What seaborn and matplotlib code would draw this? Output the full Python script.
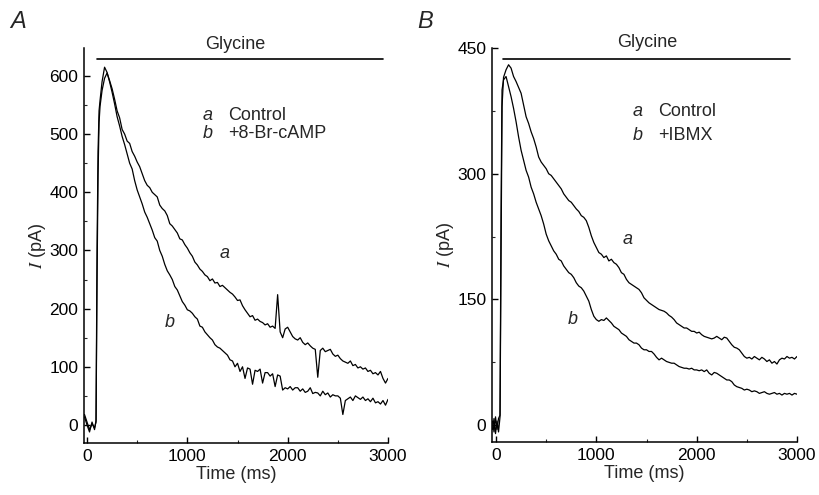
import matplotlib
matplotlib.use("Agg")
import matplotlib.pyplot as plt
from matplotlib.ticker import MultipleLocator
import seaborn as sns
import pandas as pd

# ---------------- data ----------------
STEP_TIMES = list(range(200, 3001, 25))

# Panel A : control (a) vs +8-Br-cAMP (b)
A_EARLY_T = [-25, 0, 25, 50, 75, 90, 100, 110, 120, 130, 150, 175]
A_a_early = [18, 5, -8, 2, -5, 5, 250, 430, 520, 548, 575, 596]
A_b_early = [14, 0, -12, 5, -8, 8, 300, 470, 540, 558, 590, 615]
A_a = [605, 592, 578, 560, 540, 528, 508, 500, 488, 484, 470, 462, 452, 444, 432, 420,
       412, 408, 400, 396, 392, 378, 372, 368, 360, 346, 342, 336, 330, 320, 318, 310,
       304, 296, 290, 280, 275, 268, 264, 258, 255, 248, 251, 244, 245, 238, 240, 236,
       232, 228, 225, 220, 214, 215, 205, 198, 192, 186, 188, 180, 182, 178, 176, 172,
       174, 168, 170, 166, 224, 160, 150, 165, 168, 160, 152, 148, 146, 150, 142, 138,
       141, 136, 132, 130, 82, 128, 132, 126, 128, 130, 122, 118, 120, 114, 110, 108,
       106, 110, 102, 104, 98, 100, 96, 98, 92, 94, 88, 90, 86, 92, 80, 72, 80]
A_b = [606, 590, 572, 552, 530, 514, 496, 482, 466, 450, 440, 420, 404, 392, 380, 366,
       357, 346, 335, 322, 316, 300, 290, 276, 265, 258, 250, 238, 232, 222, 212, 206,
       198, 196, 192, 186, 182, 170, 168, 160, 155, 150, 146, 138, 134, 132, 128, 124,
       120, 112, 110, 100, 106, 92, 100, 80, 98, 96, 70, 94, 92, 96, 72, 90,
       90, 84, 88, 66, 86, 84, 60, 64, 62, 66, 60, 64, 64, 58, 62, 56,
       58, 64, 54, 56, 55, 50, 58, 52, 55, 48, 52, 50, 50, 46, 18, 42,
       45, 48, 42, 50, 47, 44, 48, 42, 45, 40, 46, 38, 40, 36, 42, 34, 44]

# Panel B : control (a) vs +IBMX (b)
B_EARLY_T = [-35, -20, -5, 10, 25, 40, 50, 60, 75, 100, 125, 150, 175]
B_a_early = [-5, 8, -10, 5, -8, 10, 200, 380, 415, 424, 430, 426, 416]
B_b_early = [5, -8, 10, -5, 8, 12, 250, 400, 412, 416, 404, 392, 378]
B_a = [410, 403, 396, 382, 368, 360, 350, 342, 332, 320, 314, 310, 306, 300, 298, 294,
       290, 286, 282, 276, 272, 268, 266, 262, 258, 255, 250, 248, 244, 236, 226, 218,
       212, 206, 204, 200, 202, 196, 198, 194, 192, 188, 182, 180, 174, 170, 168, 166,
       164, 162, 158, 152, 149, 146, 144, 142, 140, 138, 137, 136, 134, 131, 129, 126,
       122, 120, 118, 116, 116, 114, 112, 112, 110, 111, 108, 106, 105, 104, 103, 104,
       106, 104, 102, 105, 104, 100, 96, 93, 92, 90, 86, 82, 80, 81, 79, 82,
       80, 78, 81, 79, 76, 78, 74, 76, 73, 78, 80, 79, 82, 80, 81, 79, 82]
B_b = [362, 344, 328, 316, 304, 296, 284, 276, 266, 258, 250, 240, 228, 220, 214, 208,
       204, 198, 196, 190, 186, 182, 180, 176, 170, 166, 164, 160, 154, 148, 138, 130,
       126, 124, 126, 125, 128, 125, 122, 118, 116, 114, 110, 108, 106, 102, 100, 98,
       98, 96, 92, 90, 90, 88, 88, 85, 81, 78, 80, 78, 76, 75, 74, 74,
       72, 70, 69, 68, 68, 67, 68, 66, 66, 65, 66, 64, 66, 62, 60, 63,
       62, 60, 58, 56, 54, 54, 52, 48, 46, 45, 44, 42, 43, 42, 40, 41,
       40, 38, 39, 40, 38, 37, 38, 39, 37, 38, 36, 38, 37, 38, 36, 38, 37]

GLY_A_SPAN = [100, 2950]
GLY_A_LEVEL = 629
GLY_B_SPAN = [70, 2930]
GLY_B_LEVEL = 437

A_YTICKS = [0, 100, 200, 300, 400, 500, 600]
B_YTICKS = [0, 150, 300, 450]
XTICKS = [0, 1000, 2000, 3000]

# ---------------- style ----------------
sns.set_style("ticks")
plt.rcParams["font.family"] = ["Liberation Sans", "DejaVu Sans"]
plt.rcParams["mathtext.fontset"] = "stix"

fig = plt.figure(figsize=(8.2, 4.95), dpi=100)
axA = fig.add_axes([84 / 820, 52 / 495, 304 / 820, 395 / 495])
axB = fig.add_axes([492 / 820, 53 / 495, 305 / 820, 394 / 495])


def trace_df(early_t, early_v, vals):
    t = list(early_t) + STEP_TIMES
    v = list(early_v) + list(vals)
    n = min(len(t), len(v))
    return pd.DataFrame({"t": t[:n], "v": v[:n]})


def style_axis(ax, xlim, ylim, yticks, ymin):
    ax.set_xlim(*xlim)
    ax.set_ylim(*ylim)
    ax.set_xticks(XTICKS)
    ax.set_yticks(yticks)
    ax.xaxis.set_minor_locator(MultipleLocator(500))
    ax.yaxis.set_minor_locator(MultipleLocator(ymin))
    for s in ["top", "right"]:
        ax.spines[s].set_visible(False)
    for s in ["left", "bottom"]:
        ax.spines[s].set_linewidth(1.1)
        ax.spines[s].set_color("black")
    ax.tick_params(which="major", direction="in", length=4, width=1, labelsize=12.5,
                   colors="black", pad=4)
    ax.tick_params(which="minor", direction="in", length=2.5, width=0.8)
    ax.set_xlabel("Time (ms)", fontsize=13, labelpad=2)
    ax.set_ylabel(r"$I$ (pA)", fontsize=13, labelpad=1)


line_kw = dict(x="t", y="v", estimator=None, sort=False, color="black", linewidth=0.9)

sns.lineplot(data=trace_df(A_EARLY_T, A_a_early, A_a), ax=axA, **line_kw)
sns.lineplot(data=trace_df(A_EARLY_T, A_b_early, A_b), ax=axA, **line_kw)
sns.lineplot(data=trace_df(B_EARLY_T, B_a_early, B_a), ax=axB, **line_kw)
sns.lineplot(data=trace_df(B_EARLY_T, B_b_early, B_b), ax=axB, **line_kw)

axA.plot(GLY_A_SPAN, [GLY_A_LEVEL] * 2, color="black", lw=1.2)
axB.plot(GLY_B_SPAN, [GLY_B_LEVEL] * 2, color="black", lw=1.2)

style_axis(axA, (-30, 3000), (-31, 648), A_YTICKS, 50)
style_axis(axB, (-40, 3000), (-20, 450), B_YTICKS, 75)

# Glycine labels
axA.text(0.497, 1.008, "Glycine", transform=axA.transAxes, ha="center", va="center", fontsize=13)
axB.text(0.508, 1.015, "Glycine", transform=axB.transAxes, ha="center", va="center", fontsize=13)

# legends (text)
for ax, xa, xt, ya, yb, lab in [(axA, 0.391, 0.474, 0.830, 0.784, "+8-Br-cAMP"),
                               (axB, 0.462, 0.544, 0.838, 0.777, "+IBMX")]:
    ax.text(xa, ya, "a", style="italic", transform=ax.transAxes, ha="left", va="center", fontsize=13)
    ax.text(xt, ya, "Control", transform=ax.transAxes, ha="left", va="center", fontsize=13)
    ax.text(xa, yb, "b", style="italic", transform=ax.transAxes, ha="left", va="center", fontsize=13)
    ax.text(xt, yb, lab, transform=ax.transAxes, ha="left", va="center", fontsize=13)

# trace labels
axA.text(0.464, 0.481, "a", style="italic", transform=axA.transAxes, ha="center", va="center", fontsize=13)
axA.text(0.283, 0.304, "b", style="italic", transform=axA.transAxes, ha="center", va="center", fontsize=13)
axB.text(0.443, 0.513, "a", style="italic", transform=axB.transAxes, ha="center", va="center", fontsize=13)
axB.text(0.266, 0.310, "b", style="italic", transform=axB.transAxes, ha="center", va="center", fontsize=13)

# panel letters
fig.text(18 / 820, 1 - 22 / 495, "A", style="italic", fontsize=17, ha="center", va="center")
fig.text(425 / 820, 1 - 22 / 495, "B", style="italic", fontsize=17, ha="center", va="center")

fig.savefig("out.png", dpi=100)
